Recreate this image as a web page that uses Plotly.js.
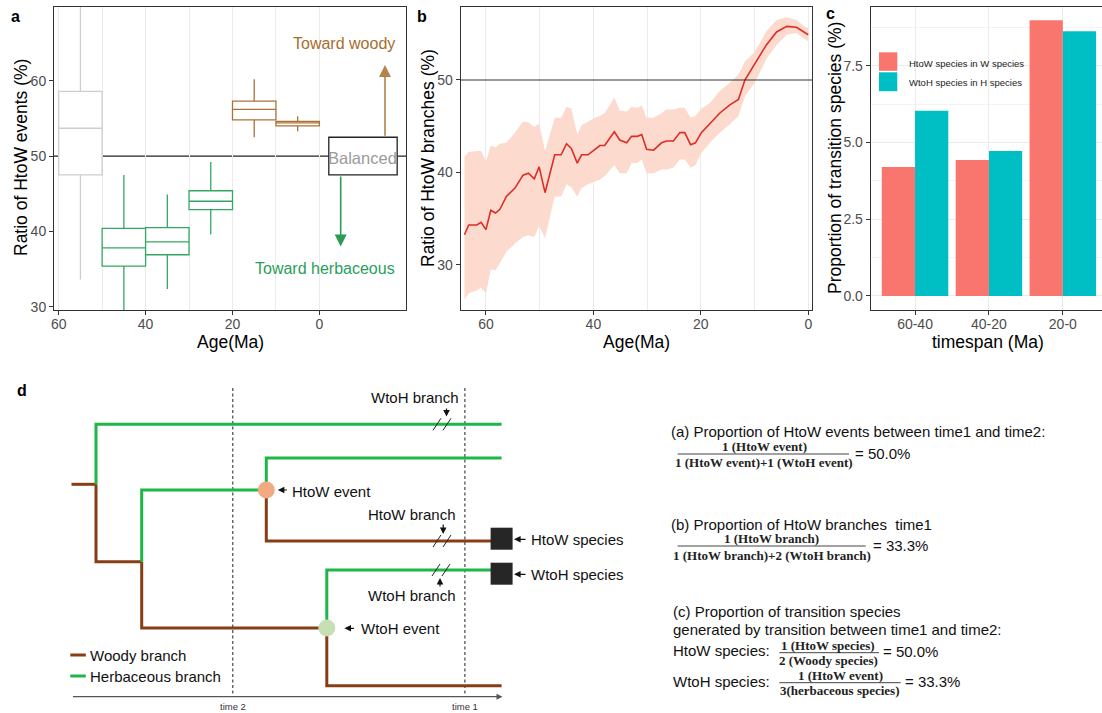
<!DOCTYPE html>
<html><head><meta charset="utf-8">
<script src="https://cdn.plot.ly/plotly-3.0.1.min.js"></script>
<style>html,body{margin:0;padding:0;background:#fff;}#chart{width:1102px;height:713px;}</style>
</head><body><div id="chart"></div>
<script>
// ---------- Panel a: ratio of HtoW events by age bin ----------
const ageBins   = [55, 45, 35, 25, 15, 5];
const boxLower  = [33.6, 27.0, 32.35, 39.6, 52.5, 53.3];
const boxQ1     = [47.5, 35.4, 36.9, 42.9, 54.8, 54.0];
const boxMedian = [53.7, 37.8, 38.6, 44.0, 56.2, 54.4];
const boxQ3     = [58.6, 40.4, 40.5, 45.4, 57.3, 54.6];
const boxUpper  = [75.0, 47.5, 44.9, 49.2, 60.2, 55.3];
const boxGroup  = ['balanced', 'herb', 'herb', 'herb', 'woody', 'woody'];

// ---------- Panel b: ratio of HtoW branches through time ----------
const ageB = [64.0,63.2,61.7,60.9,60.0,59.1,58.2,57.4,56.2,54.6,53.1,52.1,51.0,50.1,49.0,47.2,46.0,45.0,44.1,43.0,42.2,41.0,39.7,38.8,37.9,36.1,35.1,33.8,32.9,31.8,31.0,30.1,28.8,27.3,26.4,25.1,23.9,23.0,21.9,21.0,19.9,18.3,16.5,14.6,13.0,11.8,10.2,9.0,7.8,5.9,4.0,2.2,0.9,0.0];
const ratioB = [33.25,34.3,34.3,34.6,33.8,35.9,35.6,36.0,37.4,38.3,39.7,39.9,39.3,40.6,37.8,41.9,41.9,43.1,42.6,41.0,41.9,41.9,42.5,42.9,42.9,44.4,43.5,43.2,43.9,43.9,44.1,42.5,42.4,43.2,43.4,43.4,44.3,44.3,43.0,43.2,44.3,45.3,46.4,47.3,47.9,50.0,51.5,52.7,53.8,55.2,55.8,55.7,55.2,54.9];
const ratioHigh = [41.7,42.2,42.3,42.3,41.2,42.9,42.7,43.1,43.2,44.3,45.5,45.4,44.9,45.3,42.3,45.9,45.9,47.1,46.9,44.1,45.1,45.5,45.9,46.1,46.4,48.1,46.7,46.6,47.1,47.0,47.2,45.9,45.9,46.4,46.8,46.8,47.0,47.0,45.9,46.1,46.9,47.5,48.8,49.7,50.6,52.0,52.9,54.0,55.3,56.5,56.8,56.5,55.9,55.6];
const ratioLow  = [26.2,26.9,27.2,27.5,26.9,29.5,29.4,30.2,31.4,32.3,33.0,33.2,33.0,34.2,32.9,37.4,37.4,38.7,38.4,37.4,38.3,38.7,39.0,39.2,39.6,40.8,39.9,39.9,41.0,41.0,41.4,39.9,39.9,40.3,40.3,40.5,41.4,41.4,40.5,40.8,42.1,43.2,44.3,45.2,46.1,48.2,49.5,50.8,52.3,53.8,54.9,55.1,54.5,54.2];

// ---------- Panel c: proportion of transition species ----------
const timespans    = ['60-40', '40-20', '20-0'];
const htowSpecies  = [4.2, 4.43, 8.98];
const wtohSpecies  = [6.03, 4.72, 8.62];
const seriesNames  = ['HtoW species in W species', 'WtoH species in H species'];

// ---------- Panel d: schematic tree (diagram coordinates) ----------
const woodyX = [71.5,96.0,null, 96.0,96.0,141.7,null, 141.7,141.7,326.8,null, 266.3,266.3,501.6,null, 326.8,326.8,501.6];
const woodyY = [484.3,484.3,null, 484.3,561.7,561.7,null, 561.7,628,628,null, 490,541,541,null, 628,685.7,685.7];
const herbX  = [96.0,96.0,501.6,null, 141.7,141.7,266.3,null, 266.3,266.3,501.6,null, 326.8,326.8,501.6];
const herbY  = [484.3,424.3,424.3,null, 561.7,490,490,null, 490,458,458,null, 628,570,570];
const eventNames = ['HtoW event', 'WtoH event'];
const eventX = [266.3, 326.8];
const eventY = [490, 628];
const speciesNames = ['HtoW species', 'WtoH species'];
const speciesX = [501.6, 501.6];
const speciesY = [538.7, 573.7];
const timeNames = ['time 2', 'time 1'];
const timeX = [232.8, 464.9];
const breakNames = ['WtoH branch', 'HtoW branch', 'WtoH branch'];
const breakX = [442, 442, 441];
const breakY = [424.3, 541, 570];
const legendNamesD = ['Woody branch', 'Herbaceous branch'];

// ---------- styles ----------
const W = 1102, H = 713;
const px = x => x / W;
const py = y => 1 - y / H;
const BROWN = 'rgb(172,114,52)', GREEN = 'rgb(52,168,98)', GRAYBOX = 'rgb(205,205,205)';
const WOODY = 'rgb(135,62,20)', HERB = 'rgb(30,182,72)';
const TICKF = {size: 14, color: '#4d4d4d'};
const SANS = 'Liberation Sans, Arial, sans-serif';
const SERIF = 'Liberation Serif, Times New Roman, serif';

const traces = [];

// Panel a boxes
const groupStyle = {balanced: GRAYBOX, herb: GREEN, woody: BROWN};
['balanced', 'herb', 'woody'].forEach(g => {
  const idx = boxGroup.map((v, i) => v === g ? i : -1).filter(i => i >= 0);
  traces.push({
    type: 'box', xaxis: 'x', yaxis: 'y',
    x: idx.map(i => ageBins[i]), q1: idx.map(i => boxQ1[i]), median: idx.map(i => boxMedian[i]),
    q3: idx.map(i => boxQ3[i]), lowerfence: idx.map(i => boxLower[i]), upperfence: idx.map(i => boxUpper[i]),
    width: 10, whiskerwidth: 0, fillcolor: 'white', line: {color: groupStyle[g], width: 1.3},
    boxpoints: false, hoverinfo: 'skip'
  });
});

// Panel b ribbon + line
traces.push({
  type: 'scatter', mode: 'lines', xaxis: 'x2', yaxis: 'y2',
  x: ageB.concat(ageB.slice().reverse()), y: ratioHigh.concat(ratioLow.slice().reverse()),
  fill: 'toself', fillcolor: 'rgb(252,218,205)', line: {width: 0}, hoverinfo: 'skip'
});
traces.push({
  type: 'scatter', mode: 'lines', xaxis: 'x2', yaxis: 'y2', x: ageB, y: ratioB,
  line: {color: 'rgb(222,45,38)', width: 1.6}, hoverinfo: 'skip'
});

// Panel c bars
traces.push({type: 'bar', xaxis: 'x3', yaxis: 'y3', x: timespans, y: htowSpecies, name: seriesNames[0], marker: {color: '#F8766D'}});
traces.push({type: 'bar', xaxis: 'x3', yaxis: 'y3', x: timespans, y: wtohSpecies, name: seriesNames[1], marker: {color: '#00BFC4'}});

// Panel d tree
timeX.forEach(t => traces.push({type: 'scatter', mode: 'lines', xaxis: 'x4', yaxis: 'y4', x: [t, t], y: [388, 697],
  line: {color: '#333', width: 1.1, dash: '3px,2.5px'}, hoverinfo: 'skip'}));
traces.push({type: 'scatter', mode: 'lines', xaxis: 'x4', yaxis: 'y4', x: woodyX, y: woodyY, line: {color: WOODY, width: 3}, hoverinfo: 'skip'});
traces.push({type: 'scatter', mode: 'lines', xaxis: 'x4', yaxis: 'y4', x: herbX, y: herbY, line: {color: HERB, width: 3}, hoverinfo: 'skip'});
// break marks "//"
const bx = [], by = [];
breakX.forEach((cx, i) => { [-5, 5].forEach(o => { bx.push(cx + o - 4, cx + o + 4, null); by.push(breakY[i] + 6, breakY[i] - 6, null); }); });
traces.push({type: 'scatter', mode: 'lines', xaxis: 'x4', yaxis: 'y4', x: bx, y: by, line: {color: '#222', width: 1}, hoverinfo: 'skip'});
traces.push({type: 'scatter', mode: 'markers', xaxis: 'x4', yaxis: 'y4', x: eventX, y: eventY,
  marker: {size: 17, color: ['rgb(243,170,128)', 'rgb(198,224,180)'], line: {width: 0}}, hoverinfo: 'skip'});
traces.push({type: 'scatter', mode: 'markers', xaxis: 'x4', yaxis: 'y4', x: speciesX, y: speciesY,
  marker: {size: 22, symbol: 'square', color: '#262626'}, hoverinfo: 'skip'});
// legend of d
legendNamesD.forEach((n, i) => traces.push({type: 'scatter', mode: 'lines', xaxis: 'x4', yaxis: 'y4',
  x: [70.3, 85.8], y: [655 + 21 * i, 655 + 21 * i], line: {color: i === 0 ? WOODY : HERB, width: 3}, hoverinfo: 'skip'}));

const ann = [];
const txt = (text, x, y, opt) => Object.assign({text, x, y, showarrow: false, xref: 'x4', yref: 'y4',
  xanchor: 'left', yanchor: 'middle', font: {family: SANS, size: 15, color: '#111'}}, opt || {});
const arrow = (x, y, ax, ay, opt) => Object.assign({text: '', x, y, ax, ay, xref: 'x4', yref: 'y4', axref: 'x4', ayref: 'y4',
  showarrow: true, arrowhead: 2, arrowsize: 1.1, arrowwidth: 1.2, arrowcolor: '#111'}, opt || {});

// panel labels
[['a', 15, 16], ['b', 422, 16], ['c', 830, 13], ['d', 22, 391]].forEach(([t, x, y]) =>
  ann.push({text: '<b>' + t + '</b>', x: px(x), y: py(y), xref: 'paper', yref: 'paper', showarrow: false,
    xanchor: 'center', yanchor: 'middle', font: {family: SANS, size: 16, color: '#000'}}));

// axis titles
const atitle = (text, x, y, rot) => ann.push({text, x: px(x), y: py(y), xref: 'paper', yref: 'paper', showarrow: false,
  textangle: rot, xanchor: 'center', yanchor: 'middle', font: {family: SANS, size: 17.5, color: '#000'}});
atitle('Ratio of HtoW events (%)', 21, 158, -90);
atitle('Age(Ma)', 230, 342, 0);
atitle('Ratio of HtoW branches (%)', 428, 158, -90);
atitle('Age(Ma)', 636, 342, 0);
atitle('Proportion of transition species (%)', 835, 158, -90);
atitle('timespan (Ma)', 988, 342, 0);

// panel a annotations
ann.push({text: 'Toward woody', x: -17.9, y: 64.9, xref: 'x', yref: 'y', showarrow: false, xanchor: 'right', yanchor: 'middle',
  font: {family: SANS, size: 16, color: 'rgb(168,108,45)'}});
ann.push({text: 'Toward herbaceous', x: -17.9, y: 35.05, xref: 'x', yref: 'y', showarrow: false, xanchor: 'right', yanchor: 'middle',
  font: {family: SANS, size: 16, color: 'rgb(40,160,90)'}});
ann.push({text: 'Balanced', x: -10.0, y: 49.8, xref: 'x', yref: 'y', showarrow: false, xanchor: 'center', yanchor: 'middle',
  font: {family: SANS, size: 16.5, color: '#9a9a9a'}});
ann.push({text: '', x: -15.1, y: 62.1, ax: -15.1, ay: 52.5, xref: 'x', yref: 'y', axref: 'x', ayref: 'y', showarrow: true,
  arrowhead: 2, arrowsize: 1.5, arrowwidth: 1.6, arrowcolor: 'rgb(180,130,75)'});
ann.push({text: '', x: -4.9, y: 38.0, ax: -4.9, ay: 47.5, xref: 'x', yref: 'y', axref: 'x', ayref: 'y', showarrow: true,
  arrowhead: 2, arrowsize: 1.5, arrowwidth: 1.6, arrowcolor: 'rgb(40,155,85)'});

// panel c legend text
seriesNames.forEach((n, i) => ann.push({text: n, x: px(906.7), y: py(63.3 + 19.4 * i), xref: 'paper', yref: 'paper', showarrow: false,
  xanchor: 'left', yanchor: 'middle', font: {family: SANS, size: 9.5, color: '#222'}}));

// panel d labels
ann.push(arrow(277.8, 490, 288.5, 490)); ann.push(txt(eventNames[0], 289.5, 491.5));
ann.push(arrow(344.4, 628.3, 355.4, 628.3)); ann.push(txt(eventNames[1], 358.5, 628.3));
speciesNames.forEach((n, i) => { ann.push(arrow(514, speciesY[i] + 0.6, 527, speciesY[i] + 0.6)); ann.push(txt(n, 529.3, speciesY[i] + 0.6)); });
ann.push(txt(breakNames[0], 414.6, 397.3, {xanchor: 'center'})); ann.push(arrow(446.5, 416.5, 446.5, 407));
ann.push(txt(breakNames[1], 411.8, 514, {xanchor: 'center'})); ann.push(arrow(443.2, 534, 443.2, 523));
ann.push(txt(breakNames[2], 411.8, 595, {xanchor: 'center'})); ann.push(arrow(440, 578, 440, 588));
legendNamesD.forEach((n, i) => ann.push(txt(n, 87.5, 655 + 21 * i)));
timeNames.forEach((n, i) => ann.push(txt(n, timeX[i] + 0.5, 706, {xanchor: 'center', font: {family: SANS, size: 9.5, color: '#333'}})));
ann.push(arrow(502.5, 696.7, 71.5, 696.7, {arrowhead: 2, arrowsize: 1, arrowwidth: 1.2, arrowcolor: '#555'}));

// formulas
const serif = {family: SERIF, size: 13, color: '#222'};
const frac = (num, den, cx, yNum, yDen) => { ann.push(txt('<b>' + num + '</b>', cx, yNum, {xanchor: 'center', font: serif}));
  ann.push(txt('<b>' + den + '</b>', cx, yDen, {xanchor: 'center', font: serif})); };
ann.push(txt('(a) Proportion of HtoW events between time1 and time2:', 668.5, 431.7));
frac('1 (HtoW event)', '1 (HtoW event)+1 (WtoH event)', 764, 446, 462.5);
ann.push(txt('= 50.0%', 853, 453.3));
ann.push(txt('(b) Proportion of HtoW branches  time1', 668.5, 524));
frac('1 (HtoW branch)', '1 (HtoW branch)+2 (WtoH branch)', 771.7, 538.3, 555);
ann.push(txt('= 33.3%', 871, 545.7));
ann.push(txt('(c) Proportion of transition species', 671, 611));
ann.push(txt('generated by transition between time1 and time2:', 671, 629.3));
ann.push(txt('HtoW species:', 671, 650.7));
frac('1 (HtoW species)', '2 (Woody species)', 828.3, 645, 660.7);
ann.push(txt('= 50.0%', 880.7, 651.3));
ann.push(txt('WtoH species:', 671, 681));
frac('1 (HtoW event)', '3(herbaceous species)', 840, 675, 690.7);
ann.push(txt('= 33.3%', 903.3, 681));

const shapes = [
  {type: 'line', xref: 'paper', yref: 'y', x0: px(54), x1: px(406), y0: 50, y1: 50, layer: 'below', line: {color: '#222', width: 1.1}},
  {type: 'rect', xref: 'x', yref: 'y', x0: -2.16, x1: -17.9, y0: 47.5, y1: 52.5, layer: 'above', fillcolor: 'white', line: {color: '#222', width: 1.3}},
  {type: 'line', xref: 'paper', yref: 'y2', x0: px(460.7), x1: px(812.3), y0: 50, y1: 50, layer: 'above', line: {color: '#333', width: 1.1}},
  {type: 'rect', xref: 'paper', yref: 'paper', x0: px(879), x1: px(897.3), y0: py(52.3), y1: py(70.8), layer: 'above', fillcolor: '#F8766D', line: {width: 0}},
  {type: 'rect', xref: 'paper', yref: 'paper', x0: px(879), x1: px(897.3), y0: py(72.3), y1: py(91.2), layer: 'above', fillcolor: '#00BFC4', line: {width: 0}},
  {type: 'line', xref: 'x4', yref: 'y4', x0: 677.7, x1: 849, y0: 454, y1: 454, layer: 'above', line: {color: '#444', width: 1}},
  {type: 'line', xref: 'x4', yref: 'y4', x0: 677.7, x1: 865.7, y0: 546, y1: 546, layer: 'above', line: {color: '#444', width: 1}},
  {type: 'line', xref: 'x4', yref: 'y4', x0: 779.3, x1: 879, y0: 652.7, y1: 652.7, layer: 'above', line: {color: '#444', width: 1}},
  {type: 'line', xref: 'x4', yref: 'y4', x0: 779.3, x1: 900.7, y0: 682.7, y1: 682.7, layer: 'above', line: {color: '#444', width: 1}}
];

const baseAx = {showline: true, linecolor: '#333', linewidth: 1, mirror: true, zeroline: false, ticks: 'outside', ticklen: 4,
  tickcolor: '#333', tickfont: TICKF, fixedrange: true};
const layout = {
  width: W, height: H, margin: {l: 0, r: 0, t: 0, b: 0}, paper_bgcolor: 'white', plot_bgcolor: 'white',
  showlegend: false, boxmode: 'overlay', barmode: 'group', bargap: 0.1, bargroupgap: 0,
  font: {family: SANS},
  xaxis: Object.assign({}, baseAx, {domain: [px(54), px(406)], range: [61.08, -19.93], anchor: 'y', tickvals: [60, 40, 20, 0],
    showgrid: true, gridcolor: '#ebebeb', minor: {tickvals: [50, 30, 10], showgrid: true, gridcolor: '#ebebeb', ticks: ''}}),
  yaxis: Object.assign({}, baseAx, {domain: [py(310), py(7)], range: [29.56, 69.8], anchor: 'x', tickvals: [30, 40, 50, 60], showgrid: false}),
  xaxis2: Object.assign({}, baseAx, {domain: [px(460.7), px(812.3)], range: [64.7, -0.75], anchor: 'y2', tickvals: [60, 40, 20, 0],
    showgrid: true, gridcolor: '#ebebeb', minor: {tickvals: [50, 30, 10], showgrid: true, gridcolor: '#ebebeb', ticks: ''}}),
  yaxis2: Object.assign({}, baseAx, {domain: [py(310), py(7)], range: [25.1, 57.9], anchor: 'x2', tickvals: [30, 40, 50], showgrid: false}),
  xaxis3: Object.assign({}, baseAx, {domain: [px(870.7), 1], range: [-0.6, 2.53], anchor: 'y3', type: 'category',
    showgrid: true, gridcolor: '#ebebeb'}),
  yaxis3: Object.assign({}, baseAx, {domain: [py(310), py(7)], range: [-0.457, 9.41], anchor: 'x3', mirror: false,
    tickvals: [0, 2.5, 5, 7.5], ticktext: ['0.0', '2.5', '5.0', '7.5'], showgrid: true, gridcolor: '#ebebeb',
    minor: {tickvals: [1.25, 3.75, 6.25, 8.75], showgrid: true, gridcolor: '#f3f3f3', ticks: ''}}),
  xaxis4: {domain: [0, 1], range: [0, W], anchor: 'y4', visible: false, fixedrange: true},
  yaxis4: {domain: [0, py(380)], range: [713, 380], anchor: 'x4', visible: false, fixedrange: true},
  annotations: ann, shapes: shapes
};
['xaxis', 'xaxis2', 'xaxis3'].forEach(k => { layout[k].ticklabelstandoff = -3; });
Plotly.newPlot('chart', traces, layout, {staticPlot: true, displayModeBar: false});
</script></body></html>
